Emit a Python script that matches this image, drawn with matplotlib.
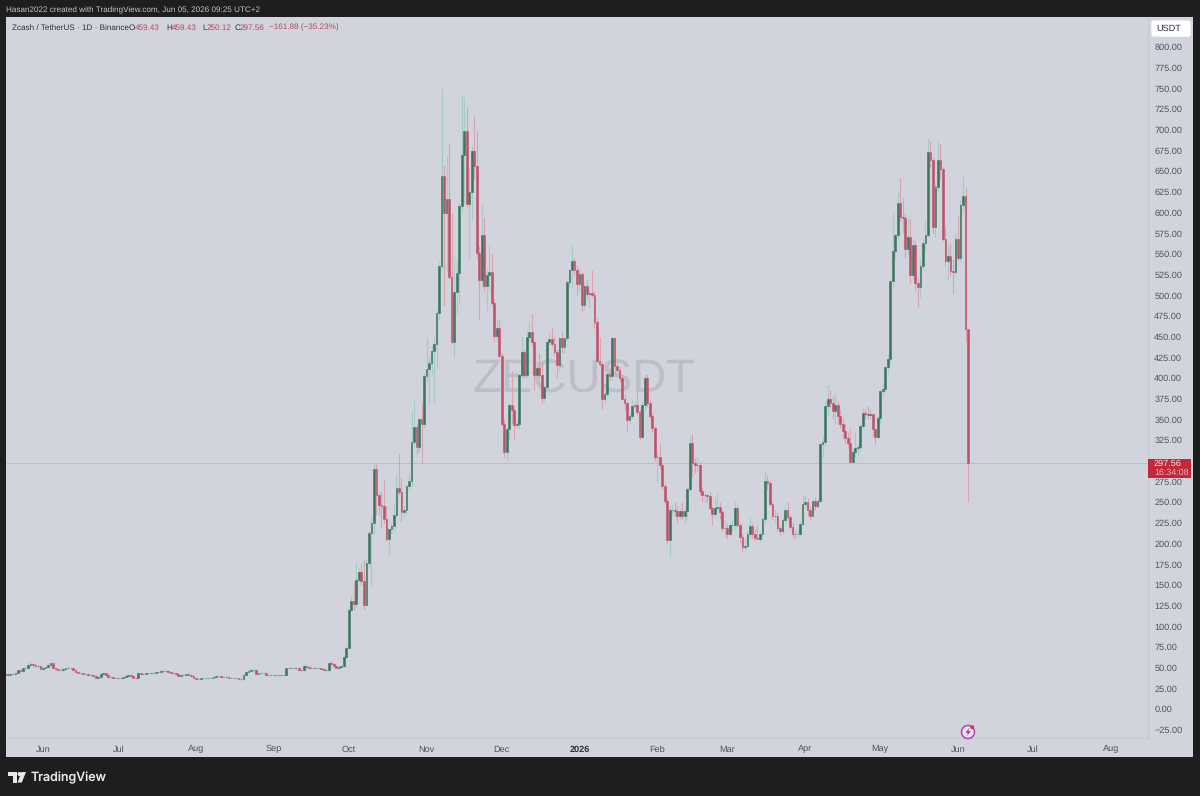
"""ZECUSDT daily candles, TradingView style"""
import matplotlib
matplotlib.use("Agg")
import matplotlib.pyplot as plt
import matplotlib.dates as mdates
from matplotlib.patches import Circle, FancyBboxPatch, Polygon, Rectangle
import numpy as np
import pandas as pd

plt.rcParams['font.family'] = ['Liberation Sans', 'DejaVu Sans']
plt.rcParams['text.hinting'] = 'none'

first_day = '2025-05-17'

opens = [
    41, 42, 41, 42, 42, 43, 47, 46, 49, 50,
    53, 54, 53, 52, 52, 48, 50, 51, 53, 55,
    50, 48, 47, 47, 48, 49, 50, 49, 47, 45,
    44, 43, 42, 42, 41, 41, 40, 38, 39, 42,
    43, 41, 39, 39, 38, 38, 37, 37, 39, 40,
    41, 40, 38, 37, 43, 42, 42, 43, 43, 44,
    44, 45, 45, 46, 46, 46, 45, 44, 43, 42,
    40, 41, 41, 42, 41, 40, 38, 36, 36, 37,
    37, 37, 38, 38, 39, 40, 40, 39, 39, 39,
    38, 38, 37, 37, 36, 36, 41, 45, 46, 47,
    47, 42, 43, 44, 44, 41, 41, 41, 41, 41,
    41, 41, 41, 49, 49, 50, 50, 49, 47, 47,
    52, 51, 50, 50, 49, 49, 49, 48, 47, 47,
    55, 54, 52, 50, 51, 52, 63,
    74, 120, 130, 127, 156, 165, 155, 126, 177, 213,
    225, 290, 259, 247, 245, 229, 205, 217, 221, 235,
    267, 262, 238, 241, 269, 276, 323, 341, 316, 351,
    345, 403, 411, 418, 433, 441, 478, 535, 644, 600,
    616, 522, 443, 504, 527, 608, 670, 698, 610, 625,
    674, 656, 551, 518, 573, 511, 525, 528, 491, 451,
    460, 427, 344, 311, 338, 367, 361, 343, 345, 404,
    432, 404, 450, 455, 443, 404, 412, 404, 376, 389,
    443, 447, 441, 431, 416, 448, 437, 448, 516, 530,
    541, 530, 513, 526, 488, 511, 502, 503, 500, 468,
    420, 417, 375, 381, 405, 403, 448, 414, 410, 400,
    375, 370, 349, 354, 366, 367, 359, 329, 367, 400,
    370, 354, 340, 304, 305, 295, 269, 251, 204, 240,
    241, 239, 233, 239, 233, 239, 266, 322, 297, 295,
    295, 263, 258, 258, 257, 243, 236, 243, 244, 238,
    219, 219, 212, 222, 222, 243, 222, 208, 196, 197,
    212, 221, 212, 207, 206, 212, 229, 276, 273, 248,
    233, 233, 219, 215, 228, 241, 232, 220, 212, 211,
    212, 224, 248, 250, 241, 233, 251, 245, 251, 320,
    323, 366, 375, 370, 360, 367, 354, 344, 336, 328,
    322, 299, 311, 315, 316, 342, 358, 357, 355, 356,
    338, 329, 352, 384, 387, 413, 423, 517, 553, 573,
    612, 594, 593, 556, 571, 524, 561, 515, 510, 535,
    563, 573, 673, 664, 583, 631, 663, 653, 568, 541,
    547, 529, 528, 568, 545, 609, 620, 459.43,
]
highs = [
    43, 43, 43, 43, 44, 48, 48, 50, 52, 55,
    57, 56, 54, 54, 53, 52, 52, 55, 57, 56,
    51, 49, 49, 50, 50, 52, 51, 50, 48, 46,
    45, 44, 43, 43, 42, 42, 41, 40, 43, 44,
    44, 42, 40, 40, 39, 39, 38, 40, 41, 42,
    42, 41, 39, 45, 44, 43, 44, 44, 45, 45,
    46, 46, 47, 48, 47, 47, 46, 45, 44, 43,
    42, 42, 43, 43, 42, 41, 39, 38, 38, 38,
    38, 39, 39, 40, 41, 41, 41, 40, 41, 40,
    39, 39, 38, 38, 37, 42, 46, 48, 49, 49,
    48, 44, 45, 46, 45, 42, 42, 42, 42, 42,
    42, 42, 50, 51, 52, 52, 51, 50, 48, 54,
    53, 52, 52, 51, 50, 50, 50, 49, 49, 56,
    58, 55, 53, 52, 53, 64, 76,
    122, 136, 155, 177, 172, 177, 180, 180, 215, 232,
    297, 296, 262, 263, 277, 245, 219, 225, 248, 285,
    309, 280, 245, 272, 285, 360, 374, 345, 353, 368,
    405, 450, 425, 440, 450, 482, 540, 750, 658, 668,
    683, 600, 547, 540, 612, 742, 740, 727, 652, 680,
    718, 698, 560, 610, 594, 530, 560, 550, 495, 471,
    470, 430, 350, 340, 370, 408, 365, 350, 406, 450,
    435, 458, 469, 477, 445, 420, 430, 420, 392, 445,
    455, 460, 450, 435, 450, 456, 450, 518, 532, 560,
    545, 535, 533, 528, 516, 520, 510, 530, 505, 472,
    450, 420, 385, 408, 412, 450, 450, 420, 415, 405,
    380, 372, 358, 375, 372, 386, 362, 372, 405, 405,
    375, 358, 342, 310, 320, 297, 272, 255, 245, 247,
    250, 245, 243, 250, 245, 268, 330, 332, 303, 305,
    298, 268, 262, 260, 262, 245, 255, 261, 250, 240,
    228, 225, 225, 228, 251, 247, 225, 212, 205, 215,
    232, 225, 218, 222, 215, 232, 288, 283, 277, 250,
    240, 238, 222, 232, 245, 250, 236, 226, 216, 217,
    226, 258, 258, 255, 245, 253, 256, 254, 322, 330,
    372, 392, 385, 378, 382, 372, 362, 352, 345, 335,
    340, 315, 336, 320, 345, 365, 362, 366, 362, 358,
    340, 354, 386, 394, 415, 428, 518, 600, 575, 626,
    642, 618, 600, 592, 592, 568, 565, 520, 545, 568,
    590, 690, 687, 667, 637, 687, 683, 655, 582, 560,
    563, 544, 575, 596, 615, 644, 630, 459.43,
]
lows = [
    40, 40, 40, 41, 41, 42, 45, 45, 48, 49,
    52, 51, 50, 50, 47, 47, 49, 50, 52, 49,
    47, 46, 46, 46, 47, 48, 48, 46, 44, 43,
    42, 41, 41, 40, 40, 39, 37, 37, 38, 41,
    40, 38, 38, 37, 37, 36, 36, 36, 38, 39,
    39, 37, 36, 36, 41, 41, 41, 42, 42, 43,
    43, 44, 44, 45, 45, 44, 43, 42, 41, 39,
    39, 40, 40, 40, 39, 37, 35, 35, 35, 36,
    36, 36, 37, 37, 38, 39, 38, 38, 38, 37,
    37, 36, 36, 35, 34, 35, 40, 44, 45, 45,
    41, 41, 42, 43, 40, 40, 40, 40, 40, 40,
    40, 40, 40, 48, 48, 49, 48, 46, 46, 46,
    50, 49, 49, 48, 48, 48, 47, 46, 46, 46,
    53, 51, 49, 49, 50, 51, 62,
    72, 118, 120, 122, 153, 150, 120, 124, 172, 150,
    212, 235, 235, 220, 225, 203, 185, 212, 215, 232,
    258, 226, 232, 236, 265, 270, 318, 308, 310, 297,
    340, 395, 368, 405, 370, 412, 470, 530, 487, 529,
    520, 441, 424, 479, 490, 600, 610, 607, 543, 590,
    640, 545, 471, 510, 505, 481, 505, 488, 445, 445,
    425, 342, 305, 301, 325, 345, 326, 340, 340, 400,
    400, 400, 445, 440, 385, 400, 400, 370, 372, 385,
    440, 438, 428, 400, 410, 430, 430, 445, 510, 510,
    525, 500, 505, 480, 483, 495, 485, 498, 460, 418,
    415, 362, 370, 378, 398, 400, 405, 405, 395, 373,
    360, 335, 345, 350, 362, 355, 325, 327, 360, 365,
    350, 335, 300, 275, 290, 265, 248, 200, 184, 235,
    232, 225, 230, 230, 225, 230, 262, 280, 285, 288,
    258, 250, 250, 250, 240, 222, 232, 240, 230, 215,
    208, 205, 210, 215, 218, 220, 200, 190, 192, 195,
    208, 205, 203, 205, 202, 208, 225, 265, 245, 228,
    225, 215, 210, 212, 225, 228, 218, 208, 206, 208,
    210, 222, 244, 233, 228, 232, 240, 243, 250, 305,
    318, 355, 365, 350, 345, 345, 340, 328, 322, 315,
    297, 296, 305, 305, 312, 338, 350, 350, 352, 330,
    320, 327, 345, 377, 383, 405, 418, 510, 545, 567,
    590, 575, 545, 550, 515, 520, 505, 486, 497, 530,
    555, 570, 655, 575, 570, 625, 640, 565, 535, 519,
    525, 503, 525, 542, 540, 600, 443, 250.12,
]
closes = [
    42, 41, 42, 42, 43, 47, 46, 49, 50, 53,
    54, 53, 52, 52, 48, 50, 51, 53, 55, 50,
    48, 47, 47, 48, 49, 50, 49, 47, 45, 44,
    43, 42, 42, 41, 41, 40, 38, 39, 42, 43,
    41, 39, 39, 38, 38, 37, 37, 39, 40, 41,
    40, 38, 37, 43, 42, 42, 43, 43, 44, 44,
    45, 45, 46, 46, 46, 45, 44, 43, 42, 40,
    41, 41, 42, 41, 40, 38, 36, 36, 37, 37,
    37, 38, 38, 39, 40, 40, 39, 39, 39, 38,
    38, 37, 37, 36, 36, 41, 45, 46, 47, 47,
    42, 43, 44, 44, 41, 41, 41, 41, 41, 41,
    41, 41, 49, 49, 50, 50, 49, 47, 47, 52,
    51, 50, 50, 49, 49, 49, 48, 47, 47, 55,
    54, 52, 50, 51, 52, 63, 74,
    120, 130, 127, 156, 165, 155, 126, 177, 213, 225,
    290, 259, 247, 245, 229, 205, 217, 221, 235, 267,
    262, 238, 241, 269, 276, 323, 341, 316, 351, 345,
    403, 411, 418, 433, 441, 478, 535, 644, 600, 616,
    522, 443, 504, 527, 608, 670, 698, 610, 625, 674,
    656, 551, 518, 573, 511, 525, 528, 491, 451, 460,
    427, 344, 311, 338, 367, 361, 343, 345, 404, 432,
    404, 450, 455, 443, 404, 412, 404, 376, 389, 443,
    447, 441, 431, 416, 448, 437, 448, 516, 530, 541,
    530, 513, 526, 488, 511, 502, 503, 500, 468, 420,
    417, 375, 381, 405, 403, 448, 414, 410, 400, 375,
    370, 349, 354, 366, 367, 359, 329, 367, 400, 370,
    354, 340, 304, 305, 295, 269, 251, 204, 240, 241,
    239, 233, 239, 233, 239, 266, 322, 297, 295, 295,
    263, 258, 258, 257, 243, 236, 243, 244, 238, 219,
    219, 212, 222, 222, 243, 222, 208, 196, 197, 212,
    221, 212, 207, 206, 212, 229, 276, 273, 248, 233,
    233, 219, 215, 228, 241, 232, 220, 212, 211, 212,
    224, 248, 250, 241, 233, 251, 245, 251, 320, 323,
    366, 375, 370, 360, 367, 354, 344, 336, 328, 322,
    299, 311, 315, 316, 342, 358, 357, 355, 356, 338,
    329, 352, 384, 387, 413, 423, 517, 553, 573, 612,
    594, 593, 556, 571, 524, 561, 515, 510, 535, 563,
    573, 673, 664, 583, 631, 663, 653, 568, 541, 547,
    529, 528, 568, 545, 609, 620, 459.43, 297.56,
]

price_ticks = [25 * i for i in range(-1, 33)]
hidden_price_labels = [300]  # sits under the last price tag
month_ticks = ['2025-06-01', '2025-07-01', '2025-08-01', '2025-09-01', '2025-10-01',
               '2025-11-01', '2025-12-01', '2026-01-01', '2026-02-01', '2026-03-01',
               '2026-04-01', '2026-05-01', '2026-06-01', '2026-07-01', '2026-08-01']
month_labels = ['Jun', 'Jul', 'Aug', 'Sep', 'Oct', 'Nov', 'Dec', '2026', 'Feb', 'Mar',
                'Apr', 'May', 'Jun', 'Jul', 'Aug']

dates = pd.date_range(first_day, periods=len(closes))
o, h, l, c = map(np.array, (opens, highs, lows, closes))
up = c >= o

W, H = 1200, 796
dark = '#1e1e1e'
panel = '#d1d4dc'
green = '#3a7660'
red = '#c0506a'
ink = '#2f323c'
tick_ink = '#50535f'

fig = plt.figure(figsize=(12, 7.96), dpi=100, facecolor=dark)

# pixel overlay for frame
bg = fig.add_axes([0, 0, 1, 1], zorder=0)
bg.set_xlim(0, W)
bg.set_ylim(H, 0)
bg.axis('off')
bg.add_patch(Rectangle((6, 17), 1187, 740, fc=panel, ec='none'))

# main chart, x 6..1148, y 17..738 in pixels
ax = fig.add_axes([6 / W, 1 - 738 / H, 1142 / W, 721 / H], zorder=1)
ax.set_facecolor('none')
x0 = mdates.date2num(dates[0])
ax.set_xlim(x0 + 0.24, x0 + 455.8)
ax.set_ylim(-35.1, 836.3)

ax.text(0.5065, 0.4965, 'ZECUSDT', transform=ax.transAxes, ha='center', va='center',
        fontsize=34, color='#bcbfc7', zorder=1)
ax.axhline(c[-1], color='#c9b4bc', lw=0.6, zorder=2)

ax.vlines(dates[up], l[up], h[up], color='#a3cbc8', lw=0.8, zorder=3)
ax.vlines(dates[~up], l[~up], h[~up], color='#d9a3ae', lw=0.8, zorder=3)
ax.bar(dates[up], (c - o)[up], bottom=o[up], width=0.7, color=green, ec=green, lw=0.4, zorder=4)
ax.bar(dates[~up], (c - o)[~up], bottom=o[~up], width=0.7, color=red, ec=red, lw=0.4, zorder=4)

ax.xaxis_date()
ax.set_xticks(mdates.date2num(pd.to_datetime(month_ticks)))
ax.set_xticklabels(month_labels, fontsize=6.6, color=tick_ink)
ax.get_xticklabels()[7].set_fontweight('bold')
ax.get_xticklabels()[7].set_color(ink)
ax.yaxis.tick_right()
ax.set_yticks(price_ticks)
ax.set_yticklabels(['' if p in hidden_price_labels else f'{p:.2f}'.replace('-', '\u2212')
                    for p in price_ticks], fontsize=6.6, color=tick_ink)
ax.tick_params(axis='both', length=0)
ax.tick_params(axis='x', pad=5)
ax.tick_params(axis='y', pad=4.5)
for side in ('top', 'left'):
    ax.spines[side].set_visible(False)
for side in ('bottom', 'right'):
    ax.spines[side].set_color('#c6c9d1')
    ax.spines[side].set_linewidth(0.8)

# top layer, pixel coordinates again
ov = fig.add_axes([0, 0, 1, 1], zorder=2)
ov.set_xlim(0, W)
ov.set_ylim(H, 0)
ov.axis('off')
ov.patch.set_alpha(0)

ov.text(6.5, 10, 'Hasan2022 created with TradingView.com, Jun 05, 2026 09:25 UTC+2',
        color='#c4c4c4', fontsize=5.9, va='center')
ov.text(11.5, 27.5, 'Zcash / TetherUS \u00b7 1D \u00b7 Binance', color=ink, fontsize=5.9, va='center')
legend_red = '#b8475c'
for x, s, col in [(129, 'O', ink), (134.5, '459.43', legend_red),
                  (166, 'H', ink), (172, '459.43', legend_red),
                  (202, 'L', ink), (206.5, '250.12', legend_red),
                  (234.5, 'C', ink), (240, '297.56', legend_red),
                  (269, '\u2212161.88 (\u221235.23%)', legend_red)]:
    ov.text(x, 27.5, s, color=col, fontsize=5.9, va='center')

# USDT box and last price tag
ov.add_patch(FancyBboxPatch((1152, 21), 38, 15, boxstyle='round,pad=0,rounding_size=2',
                            fc='white', ec='white', lw=1))
ov.text(1156, 28.5, 'USDT', color=ink, fontsize=6.6, va='center')
ov.add_patch(Rectangle((1148, 458.5), 43, 19.5, fc='#c2283c', ec='none'))
ov.text(1154, 463.5, '297.56', color='#f6e3e5', fontsize=6.6, va='center')
ov.text(1154, 472.5, '16:34:08', color='#eeb0b6', fontsize=6.4, va='center')

# bolt marker above the time axis
ov.add_patch(Circle((968, 732), 6.5, fc='#e9e3ee', ec='#b23fc7', lw=1.1))
ov.add_patch(Polygon([(969.5, 727.5), (965.5, 732.8), (968, 732.8), (966.6, 736.5),
                      (970.8, 731), (968.3, 731)], fc='#9c2fbb', ec='none'))
ov.add_patch(Circle((972.2, 727.2), 1.9, fc='#e5293b', ec='none'))

# TradingView logo
logo = '#e8e8e8'
ov.add_patch(Polygon([(7.5, 772), (17, 772), (17, 782.5), (12.8, 782.5), (12.8, 776), (7.5, 776)],
                     fc=logo, ec='none'))
ov.add_patch(Circle((19.5, 774), 2, fc=logo, ec='none'))
ov.add_patch(Polygon([(21.5, 772), (26, 772), (21.8, 782.5), (17.5, 782.5)], fc=logo, ec='none'))
ov.text(31, 777.5, 'TradingView', color=logo, fontsize=9, fontweight='medium', va='center',
        family=['Inter', 'DejaVu Sans'])

fig.savefig('out.png', dpi=100, facecolor=dark)
plt.close(fig)
